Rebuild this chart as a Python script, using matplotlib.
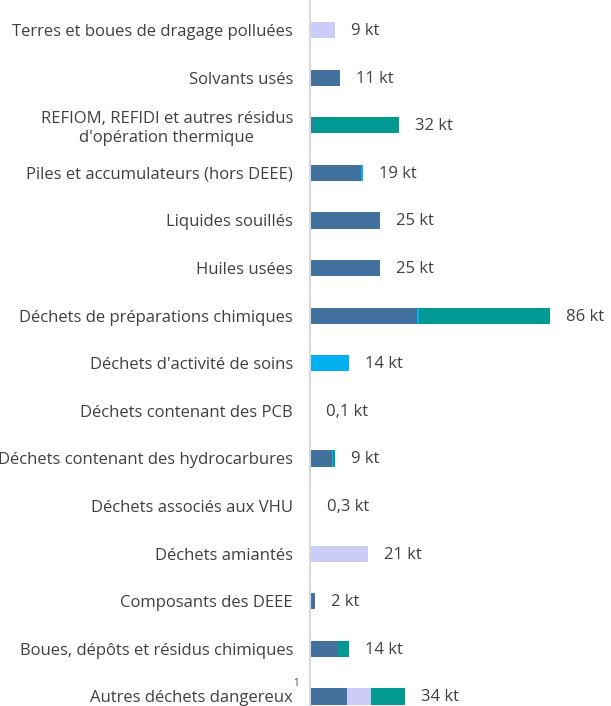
import numpy as np
import matplotlib.pyplot as plt

categories = ["Terres et boues de dragage polluées", "Solvants usés",
              "REFIOM, REFIDI et autres résidus\nd'opération thermique",
              "Piles et accumulateurs (hors DEEE)", "Liquides souillés",
              "Huiles usées", "Déchets de préparations chimiques",
              "Déchets d'activité de soins", "Déchets contenant des PCB",
              "Déchets contenant des hydrocarbures", "Déchets associés aux VHU",
              "Déchets amiantés", "Composants des DEEE",
              "Boues, dépôts et résidus chimiques", "Autres déchets dangereux"]
blue = [0, 11, 1.2, 18.5, 25, 25, 38.4, 0, 0, 8.0, 0.3, 0, 2, 10.2, 13.5]
cyan = [0, 0, 0, 0.5, 0.2, 0.2, 0.6, 14, 0.1, 0.3, 0, 0, 0, 0, 0]
lavender = [9, 0, 0, 0, 0, 0, 0, 0, 0, 0, 0, 21, 0, 0, 8.3]
teal = [0, 0, 30.8, 0, 0, 0, 47, 0, 0, 0.7, 0, 0, 0, 3.8, 12.2]
labels = ["9 kt", "11 kt", "32 kt", "19 kt", "25 kt", "25 kt", "86 kt", "14 kt",
          "0,1 kt", "9 kt", "0,3 kt", "21 kt", "2 kt", "14 kt", "34 kt"]

series = [(blue, "#41719C"), (cyan, "#00B0F0"), (lavender, "#CCCCF8"), (teal, "#009A93")]

plt.rcParams['font.family'] = ['Open Sans', 'DejaVu Sans']
fig = plt.figure(figsize=(6.11, 7.06), dpi=100)
ax = fig.add_axes([0.507, 0.0, 0.475, 1.0])

y = np.arange(len(categories))
left = np.zeros(len(categories))
for vals, col in series:
    v = np.array(vals, dtype=float)
    ax.barh(y, v, left=left, height=0.34, color=col, edgecolor="none")
    left += v

for i, lab in enumerate(labels):
    ax.annotate(lab, (left[i], y[i]), xytext=(16, -1), textcoords="offset pixels",
                va="center", ha="left", fontsize=12, color="#404040")

ax.set_xlim(0, 104)
ax.set_ylim(14.2, -0.63)
ax.set_yticks(y)
ax.set_yticklabels(categories, fontsize=12, color="#404040", linespacing=1.2)
for t in ax.get_yticklabels():
    t.set_multialignment("center")
ax.tick_params(axis="y", length=0, pad=12)
ax.set_xticks([])
for s in ["top", "right", "bottom"]:
    ax.spines[s].set_visible(False)
ax.spines["left"].set_color("#D9D9D9")
ax.spines["left"].set_linewidth(1.5)

fig.text(296 / 611, 1 - 683 / 706, "1", fontsize=7, color="#404040", ha="center", va="center")

fig.savefig("out.png", dpi=100)
